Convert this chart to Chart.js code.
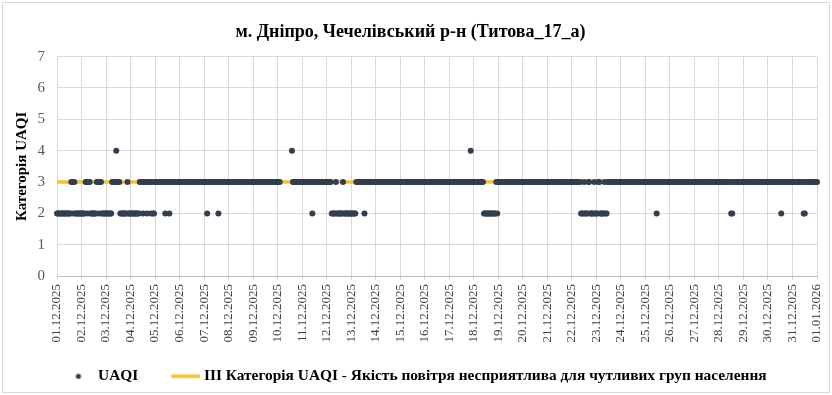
<!DOCTYPE html>
<html>
<head>
<meta charset="utf-8">
<script src="https://cdn.jsdelivr.net/npm/chart.js@4.4.1/dist/chart.umd.min.js"></script>
<style>
  html, body { margin: 0; padding: 0; background: #fff; }
  #wrap { width: 832px; height: 395px; }
</style>
</head>
<body>
<div id="wrap"><canvas id="c" width="832" height="395"></canvas></div>
<script>
// ---- data ----
const chartTitle = "м. Дніпро, Чечелівський р-н (Титова_17_а)";
const yAxisTitle = "Категорія UAQI";
const seriesName = "UAQI";
const thresholdName = "ІІІ Категорія UAQI - Якість повітря несприятлива для чутливих груп населення";
const thresholdLevel = 3;

// x tick labels (one per day, hourly data between them)
const dayLabels = [
  "01.12.2025","02.12.2025","03.12.2025","04.12.2025","05.12.2025","06.12.2025",
  "07.12.2025","08.12.2025","09.12.2025","10.12.2025","11.12.2025","12.12.2025",
  "13.12.2025","14.12.2025","15.12.2025","16.12.2025","17.12.2025","18.12.2025",
  "19.12.2025","20.12.2025","21.12.2025","22.12.2025","23.12.2025","24.12.2025",
  "25.12.2025","26.12.2025","27.12.2025","28.12.2025","29.12.2025","30.12.2025",
  "31.12.2025","01.01.2026"
];
const yTicks = [0, 1, 2, 3, 4, 5, 6, 7];

// hourly UAQI category, written as [value, number of consecutive hours]
// (null = no measurement)
const uaqiRuns = [
  [2,14],[3,2],[2,1],[3,1],[2,10],[3,2],[2,1],[3,2],[2,6],[3,2],[2,1],[3,2],
  [2,10],[3,4],[4,1],[3,3],[2,7],[3,1],[2,11],[3,3],[2,1],[3,3],
  [2,1],[3,3],[2,1],[3,1],[2,2],[3,10],[2,1],[3,3],[2,1],[3,36],
  [2,1],[3,10],[2,1],[3,60],[null,11],[4,1],[3,19],[2,1],[3,18],[2,4],
  [3,1],[2,6],[3,1],[2,12],[3,8],[2,1],[3,103],[4,1],[3,12],[2,12],
  [3,1],[2,1],[3,81],[2,3],[3,1],[2,3],[3,2],[2,4],[3,1],[2,3],
  [3,2],[2,4],[3,1],[2,2],[3,48],[2,1],[3,72],[2,2],[3,47],[2,1],
  [3,21],[2,2],[3,12]
];

// ---- expand runs into hourly points ----
const uaqiPoints = [];
let hour = 0;
for (const [v, n] of uaqiRuns) {
  for (let k = 0; k < n; k++) {
    uaqiPoints.push({ x: hour, y: v });
    hour++;
  }
}
const lastHour = (dayLabels.length - 1) * 24;
const thresholdPoints = [{ x: 0, y: thresholdLevel }, { x: lastHour, y: thresholdLevel }];

// ---- legend markers ----
const DOT = '#333F4F';
const GOLD = '#F5C232';
function dotMarker() {
  const c = document.createElement('canvas');
  c.width = 36; c.height = 12;
  const g = c.getContext('2d');
  g.fillStyle = DOT;
  g.beginPath(); g.arc(24, 6, 2.6, 0, Math.PI * 2); g.fill();
  return c;
}
function lineMarker() {
  const c = document.createElement('canvas');
  c.width = 44; c.height = 12;
  const g = c.getContext('2d');
  g.strokeStyle = GOLD; g.lineWidth = 3.5;
  g.beginPath(); g.moveTo(15, 6); g.lineTo(44, 6); g.stroke();
  return c;
}

const frame = {
  id: 'frame',
  beforeDraw(chart) {
    const ctx = chart.ctx;
    ctx.save();
    ctx.fillStyle = '#fff';
    ctx.fillRect(0, 0, chart.width, chart.height);
    ctx.strokeStyle = '#D9D9D9';
    ctx.lineWidth = 1;
    ctx.strokeRect(2.5, 2.5, chart.width - 5, chart.height - 5);
    ctx.restore();
  }
};

const SERIF = "'Liberation Serif', 'Times New Roman', serif";

new Chart(document.getElementById('c'), {
  type: 'line',
  data: {
    datasets: [
      {
        label: seriesName,
        data: uaqiPoints,
        showLine: false,
        pointRadius: 3,
        pointHoverRadius: 3,
        pointBorderWidth: 0,
        pointBackgroundColor: DOT,
        borderColor: DOT,
        backgroundColor: DOT,
        clip: false
      },
      {
        label: thresholdName,
        data: thresholdPoints,
        borderColor: GOLD,
        backgroundColor: GOLD,
        borderWidth: 3.5,
        pointRadius: 0,
        tension: 0
      }
    ]
  },
  options: {
    responsive: false,
    animation: false,
    devicePixelRatio: 1,
    layout: { padding: { left: 4, right: 15, top: 0, bottom: 1 } },
    plugins: {
      tooltip: { enabled: false },
      title: {
        display: true,
        text: chartTitle,
        color: '#000',
        font: { family: SERIF, size: 18, weight: 'bold' },
        padding: { top: 22, bottom: 13 }
      },
      legend: {
        position: 'bottom',
        labels: {
          usePointStyle: true,
          pointStyleWidth: 36,
          padding: 22,
          color: '#000',
          font: { family: SERIF, size: 15.4, weight: 'bold' },
          generateLabels(chart) {
            return chart.data.datasets.map((ds, i) => ({
              text: ds.label,
              datasetIndex: i,
              pointStyle: i === 0 ? dotMarker() : lineMarker(),
              fillStyle: 'transparent',
              strokeStyle: 'transparent',
              lineWidth: 0,
              fontColor: '#000',
              hidden: false
            }));
          }
        }
      }
    },
    scales: {
      x: {
        type: 'linear',
        min: 0,
        max: lastHour,
        offset: false,
        border: { display: true, color: '#BFBFBF', width: 1 },
        grid: { color: '#D9D9D9', tickLength: 4, drawTicks: true },
        ticks: {
          stepSize: 24,
          autoSkip: false,
          minRotation: 90,
          maxRotation: 90,
          padding: 4,
          color: '#404040',
          font: { family: SERIF, size: 13 },
          callback: (v) => dayLabels[Math.round(v / 24)]
        },
        afterFit(scale) { scale.paddingLeft = 0; scale.paddingRight = 0; }
      },
      y: {
        min: yTicks[0],
        max: yTicks[yTicks.length - 1],
        border: { display: false },
        grid: { color: '#D9D9D9', drawTicks: false },
        ticks: {
          stepSize: 1,
          padding: 12,
          color: '#595959',
          font: { family: SERIF, size: 15 }
        },
        title: {
          display: true,
          text: yAxisTitle,
          color: '#000',
          font: { family: SERIF, size: 15, weight: 'bold' },
          padding: { top: 9, bottom: 7 }
        },
        afterFit(scale) { scale.width = 53; }
      }
    }
  },
  plugins: [frame]
});
</script>
</body>
</html>
